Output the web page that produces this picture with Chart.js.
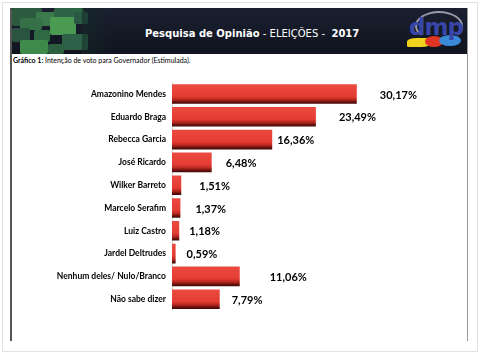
<!DOCTYPE html>
<html><head><meta charset="utf-8">
<script src="https://cdn.jsdelivr.net/npm/chart.js@4/dist/chart.umd.min.js"></script>
<style>
html,body{margin:0;padding:0;background:#fff;width:480px;height:356px;overflow:hidden;}
#page{position:absolute;left:2px;top:2px;width:474px;height:348px;border:1px solid #e2e2e2;background:#fff;}
#frameL{position:absolute;left:10px;top:8px;width:2px;height:333px;background:#555;}
#frameR{position:absolute;left:467px;top:8px;width:1px;height:333px;background:#999;}
#header{position:absolute;left:12px;top:8px;width:455px;height:46px;background:linear-gradient(#1b2030,#10141f);overflow:hidden;}
.sq{position:absolute;border-radius:2px;}
#title{position:absolute;left:145px;top:28px;font-family:"DejaVu Sans";font-size:10px;color:#fff;white-space:nowrap;}
#title b{font-weight:bold;}
#sub{position:absolute;left:13px;top:56px;font-family:Lato;font-size:7px;color:#000;white-space:nowrap;}
#logo{position:absolute;left:407px;top:11px;width:56px;height:42px;}
canvas{position:absolute;left:0;top:70px;}
</style></head>
<body>
<div id="page"></div>
<div id="header">
  <div class="sq" style="left:0;top:0;width:30px;height:18px;background:#2c5a3e;"></div>
  <div class="sq" style="left:24px;top:4px;width:20px;height:14px;background:#3b7a4a;"></div>
  <div class="sq" style="left:8px;top:10px;width:22px;height:12px;background:#357046;"></div>
  <div class="sq" style="left:42px;top:0;width:30px;height:10px;background:#2e6446;"></div>
  <div class="sq" style="left:38px;top:9px;width:26px;height:18px;background:#4a9a52;"></div>
  <div class="sq" style="left:62px;top:4px;width:14px;height:12px;background:#2a5a44;"></div>
  <div class="sq" style="left:0;top:20px;width:18px;height:14px;background:#2a5440;"></div>
  <div class="sq" style="left:22px;top:22px;width:16px;height:12px;background:#2f6a44;"></div>
  <div class="sq" style="left:50px;top:26px;width:26px;height:16px;background:#2d6248;"></div>
  <div class="sq" style="left:8px;top:32px;width:28px;height:14px;background:#3e8a4a;"></div>
  <div class="sq" style="left:36px;top:36px;width:16px;height:10px;background:#2c5e40;"></div>
  <div style="position:absolute;left:70px;top:0;width:30px;height:46px;background:linear-gradient(90deg,rgba(20,40,40,0.6),rgba(16,20,31,0));"></div>
</div>
<div id="title"><b>Pesquisa de Opinião</b> - ELEIÇÕES - &nbsp;<b>2017</b></div>
<div id="logo">
  <div style="position:absolute;left:8px;top:0;width:44px;height:26px;border:2px solid #9a9aa8;border-radius:50%;border-bottom-color:transparent;"></div>
  <div style="position:absolute;left:0;top:27px;width:24px;height:9px;background:#f2d21c;border-radius:40% 10% 40% 10%;"></div>
  <div style="position:absolute;left:18px;top:25px;width:18px;height:11px;background:#e03424;border-radius:50%;"></div>
  <div style="position:absolute;left:32px;top:24px;width:22px;height:11px;background:#3a8ad8;border-radius:50%;"></div>
  <div style="position:absolute;left:2px;top:3px;font-family:'DejaVu Sans';font-size:23px;font-weight:bold;color:#3846a8;letter-spacing:-1px;">dmp</div>
</div>
<div id="sub"><b>Gráfico 1:</b> Intenção de voto para Governador (Estimulada).</div>
<div id="frameL"></div>
<div id="frameR"></div>
<canvas id="c" width="480" height="270"></canvas>
<script>
const categories = ["Amazonino Mendes","Eduardo Braga","Rebecca Garcia","José Ricardo","Wilker Barreto","Marcelo Serafim","Luiz Castro","Jardel Deltrudes","Nenhum deles/ Nulo/Branco","Não sabe dizer"];
const values = [30.17,23.49,16.36,6.48,1.51,1.37,1.18,0.59,11.06,7.79];
const valueLabels = ["30,17%","23,49%","16,36%","6,48%","1,51%","1,37%","1,18%","0,59%","11,06%","7,79%"];
const labelGaps = [23,23,5,14,18,15,10,11,30,12];

const BAR_PCT = 0.86;
function barFill(ctx){
  const chart = ctx.chart;
  const ys = chart.scales.y;
  if (!ys || ctx.dataIndex === undefined) return '#e53b32';
  const c = ys.getPixelForValue(ctx.dataIndex);
  const band = (ys.bottom - ys.top) / categories.length;
  const h = band * BAR_PCT;
  const top = c - h/2, bot = c + h/2;
  if (!isFinite(top) || !isFinite(bot) || bot <= top) return '#e53b32';
  const g = chart.ctx.createLinearGradient(0, top, 0, bot);
  g.addColorStop(0, '#ec4a40');
  g.addColorStop(0.62, '#e43c33');
  g.addColorStop(0.78, '#b8281f');
  g.addColorStop(0.9, '#6e120e');
  g.addColorStop(1, '#3a0806');
  return g;
}

const valueLabelPlugin = {
  id: 'valueLabels',
  afterDatasetsDraw(chart){
    const meta = chart.getDatasetMeta(0);
    const ctx = chart.ctx;
    ctx.save();
    ctx.font = 'bold 11px Lato';
    ctx.fillStyle = '#000';
    ctx.textBaseline = 'middle';
    ctx.textAlign = 'left';
    meta.data.forEach((el, i) => {
      ctx.fillText(valueLabels[i], el.x + labelGaps[i], el.y + 1);
    });
    ctx.restore();
  }
};

new Chart(document.getElementById('c'), {
  type: 'bar',
  data: {
    labels: categories,
    datasets: [{
      data: values,
      backgroundColor: barFill,
      borderWidth: 0,
      barPercentage: BAR_PCT,
      categoryPercentage: 1
    }]
  },
  options: {
    indexAxis: 'y',
    responsive: false,
    animation: false,
    layout: { padding: { top: 12.6, bottom: 29.4, right: 14, left: 0 } },
    plugins: { legend: { display: false }, tooltip: { enabled: false } },
    scales: {
      x: { display: false, min: 0, max: 48 },
      y: {
        afterFit(s){ s.width = 172; },
        grid: { display: false, drawTicks: false },
        border: { display: true, color: '#d8d8d8', width: 1 },
        ticks: { padding: 6, color: '#000', font: { family: 'Lato', weight: 'bold', size: 8.5 } }
      }
    }
  },
  plugins: [valueLabelPlugin]
});
</script>
</body></html>
